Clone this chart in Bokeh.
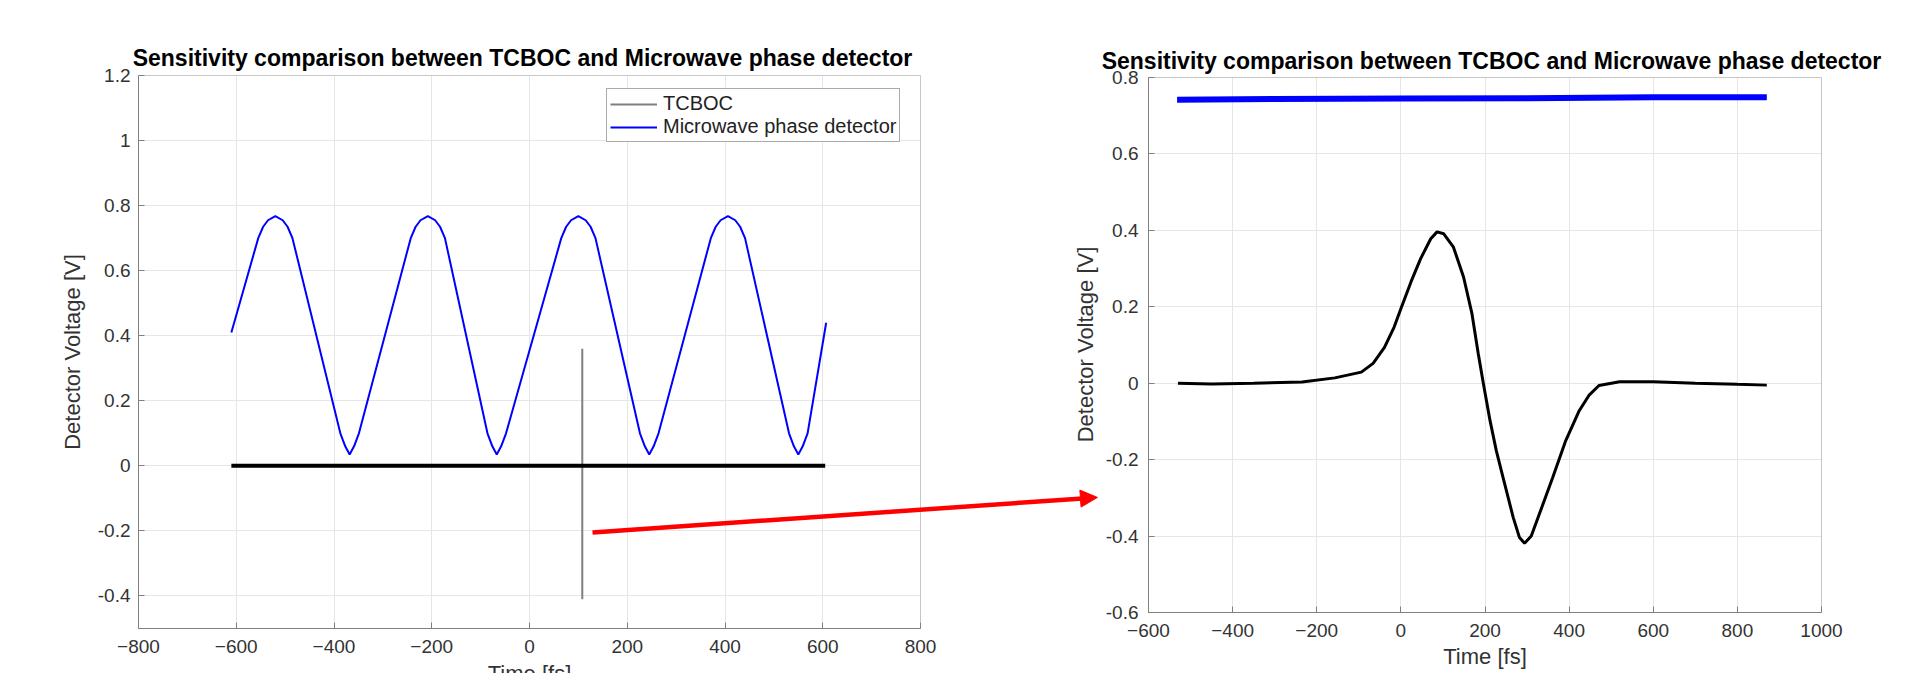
import math
from bokeh.plotting import figure
from bokeh.models import (Range1d, FixedTicker, CustomJSTickFormatter, Legend, LegendItem,
                          Arrow, NormalHead, Label, BoxAnnotation)
from bokeh.layouts import row
from bokeh.embed import file_html
from bokeh.resources import INLINE

# ---------------- data ----------------
title_text = "Sensitivity comparison between TCBOC and Microwave phase detector"
ylabel_text = "Detector Voltage [V]"
xlabel_text = "Time [fs]"
legend_labels = ["TCBOC", "Microwave phase detector"]

left_x_ticks = [-800, -600, -400, -200, 0, 200, 400, 600, 800]
left_y_ticks = [-0.4, -0.2, 0, 0.2, 0.4, 0.6, 0.8, 1.0, 1.2]
right_x_ticks = [-600, -400, -200, 0, 200, 400, 600, 800, 1000]
right_y_ticks = [-0.6, -0.4, -0.2, 0, 0.2, 0.4, 0.6, 0.8]

# left panel: microwave phase detector (blue)
mw_time = [-610,
           -555, -545, -535, -520, -505, -495, -485,
           -387, -377, -368, -359, -349,
           -243, -233, -223, -208, -193, -183, -173,
           -86, -76, -67, -58, -48,
           65, 75, 85, 100, 115, 125, 135,
           226, 236, 245, 254, 264,
           371, 381, 391, 406, 421, 431, 441,
           531, 541, 550, 559, 569,
           607]
mw_volt = [0.41,
           0.70, 0.735, 0.755, 0.768, 0.755, 0.735, 0.70,
           0.10, 0.06, 0.035, 0.06, 0.10,
           0.70, 0.735, 0.755, 0.768, 0.755, 0.735, 0.70,
           0.10, 0.06, 0.035, 0.06, 0.10,
           0.70, 0.735, 0.755, 0.768, 0.755, 0.735, 0.70,
           0.10, 0.06, 0.035, 0.06, 0.10,
           0.70, 0.735, 0.755, 0.768, 0.755, 0.735, 0.70,
           0.10, 0.06, 0.035, 0.06, 0.10,
           0.44]
# left panel: TCBOC (grey spike) and black baseline trace
tcboc_time = [108, 108]
tcboc_volt = [0.36, -0.41]
base_time = [-610, -300, 0, 300, 605]
base_volt = [0.0, 0.0, 0.0, 0.0, 0.0]

# right panel: zoomed TCBOC (black) and microwave detector (blue)
zt_time = [-530, -450, -350, -235, -157, -94, -66, -39, -16, 0, 24, 47, 71, 86, 102, 125,
           149, 169, 184, 196, 212, 227, 243, 267, 282, 294, 310, 329, 361, 392, 424, 447,
           471, 520, 600, 700, 800, 870]
zt_volt = [0.0, -0.002, 0.0, 0.003, 0.014, 0.029, 0.052, 0.094, 0.147, 0.195, 0.265, 0.326,
           0.378, 0.396, 0.391, 0.356, 0.278, 0.182, 0.077, 0.0, -0.098, -0.177, -0.247,
           -0.351, -0.404, -0.419, -0.40, -0.343, -0.247, -0.15, -0.072, -0.032, -0.006,
           0.004, 0.004, 0.0, -0.003, -0.005]
zm_time = [-532, -300, 0, 300, 600, 870]
zm_volt = [0.742, 0.744, 0.745, 0.746, 0.748, 0.748]

# ---------------- style ----------------
FONT = "Liberation Sans"
TICK_COL = "#333333"
AX_COL = "#808080"
GRID_COL = "#e6e6e6"
H = 673          # canvas height (page has no margin); frames fill each canvas
TITLE_SIZE = "23px"

yfmt_code = "return String(Number(tick.toFixed(2)));"


def style_axes(p, xticks, yticks, ystand, xb, yb):
    for ax in p.xaxis:
        ax.ticker = FixedTicker(ticks=xticks)
        ax.major_label_standoff = 11
        ax.fixed_location = yb[0]
        ax.bounds = xb
        ax.axis_label = xlabel_text
    for ax in p.yaxis:
        ax.ticker = FixedTicker(ticks=yticks)
        ax.formatter = CustomJSTickFormatter(code=yfmt_code)
        ax.major_label_standoff = ystand
        ax.fixed_location = xb[0]
        ax.bounds = yb
    for ax in list(p.xaxis) + list(p.yaxis):
        ax.major_tick_in = 6
        ax.major_tick_out = 0
        ax.minor_tick_line_color = None
        ax.axis_line_color = AX_COL
        ax.major_tick_line_color = AX_COL
        ax.major_label_text_font = FONT
        ax.major_label_text_font_size = "19px"
        ax.major_label_text_color = TICK_COL
        ax.axis_label_text_font = FONT
        ax.axis_label_text_font_size = "22px"
        ax.axis_label_text_font_style = "normal"
        ax.axis_label_text_color = TICK_COL
    p.xgrid.ticker = FixedTicker(ticks=xticks)
    p.ygrid.ticker = FixedTicker(ticks=yticks)
    p.xgrid.cross_bounds = yb
    p.ygrid.cross_bounds = xb
    p.grid.grid_line_color = GRID_COL
    p.outline_line_color = None
    p.add_layout(BoxAnnotation(left=xb[0], right=xb[1], bottom=yb[0], top=yb[1],
                               fill_color=None, line_color=AX_COL, line_width=1,
                               level="overlay"))


def title(p, x, y):
    p.add_layout(Label(x=x, y=y, text=title_text, text_align="center",
                       text_baseline="alphabetic", text_font=FONT,
                       text_font_size=TITLE_SIZE, text_font_style="bold",
                       text_color="#000000"))


def ylabel(p, x, y):
    p.add_layout(Label(x=x, y=y, text=ylabel_text, angle=math.pi / 2,
                       text_align="center", text_baseline="middle",
                       text_font=FONT, text_font_size="22px", text_color=TICK_COL))


# ---------------- left figure ----------------
# canvas 0..1100 x 0..673 is all frame; data box x -800..800 -> px 138..920,
# y 1.2..-0.5 -> px 75..628
lx_ppu = (920 - 138) / 1600.0
ly_ppu = (628 - 75) / 1.7
lx_start = -800 - 138 / lx_ppu
lx_end = -800 + (1100 - 138) / lx_ppu
ly_start = -0.5 - (H - 628) / ly_ppu
ly_end = 1.2 + 75 / ly_ppu


def lx(px):
    return -800 + (px - 138) / lx_ppu


def ly(py):
    return 1.2 - (py - 75) / ly_ppu


p1 = figure(width=1100, height=H, x_range=Range1d(lx_start, lx_end),
            y_range=Range1d(ly_start, ly_end),
            output_backend="svg", toolbar_location=None,
            min_border_left=0, min_border_right=0, min_border_top=0, min_border_bottom=0)
style_axes(p1, left_x_ticks, left_y_ticks, 8, (-800, 800), (-0.5, 1.2))
p1.xaxis.axis_label_standoff = 5

r_tc = p1.line(tcboc_time, tcboc_volt, line_color="#7f7f7f", line_width=2)
r_mw = p1.line(mw_time, mw_volt, line_color="#0000ff", line_width=2)
p1.line(base_time, base_volt, line_color="#000000", line_width=4)

legend = Legend(items=[LegendItem(label=legend_labels[0], renderers=[r_tc]),
                       LegendItem(label=legend_labels[1], renderers=[r_mw])],
                location=(606, 531), orientation="vertical")
legend.label_text_font = FONT
legend.label_text_font_size = "20px"
legend.label_text_color = "#222222"
legend.glyph_width = 47
legend.glyph_height = 20
legend.label_height = 20
legend.label_standoff = 6
legend.padding = 3
legend.spacing = 0
legend.margin = 0
legend.border_line_color = "#555555"
legend.border_line_width = 1
legend.background_fill_alpha = 1
p1.add_layout(legend)

title(p1, lx(522), ly(57))
# y labels: left panel's own, and the right panel's one (sits in the gap)
ylabel(p1, lx(72), ly(351.5))
ylabel(p1, lx(1085), ly(344))

# red arrow
p1.add_layout(Arrow(end=NormalHead(size=17, fill_color="#ff0000", line_color="#ff0000"),
                    x_start=129, y_start=-0.205, x_end=1162, y_end=-0.097,
                    line_color="#ff0000", line_width=4.5, level="overlay"))

# ---------------- right figure ----------------
# canvas 0..808 (window 1100..1908) is all frame; data box x -600..1000 -> window 1148..1821,
# y 0.8..-0.6 -> px 77..612
rx_ppu = (1821 - 1148) / 1600.0
ry_ppu = (612 - 77) / 1.4
rx_start = -600 - (1148 - 1100) / rx_ppu
rx_end = 1000 + (1908 - 1821) / rx_ppu
ry_end = 0.8 + 77 / ry_ppu
ry_start = -0.6 - (H - 612) / ry_ppu

p2 = figure(width=808, height=H, x_range=Range1d(rx_start, rx_end),
            y_range=Range1d(ry_start, ry_end),
            output_backend="svg", toolbar_location=None,
            min_border_left=0, min_border_right=0, min_border_top=0, min_border_bottom=0)
style_axes(p2, right_x_ticks, right_y_ticks, 10, (-600, 1000), (-0.6, 0.8))
p2.xaxis.axis_label_standoff = 4

p2.line(zt_time, zt_volt, line_color="#000000", line_width=3)
p2.line(zm_time, zm_volt, line_color="#0000ff", line_width=6)

title(p2, -600 + (1491 - 1148) / rx_ppu, 0.8 + (77 - 60) / ry_ppu)

layout = row(p1, p2, spacing=0)
open("out.html", "w").write(file_html(layout, INLINE))
